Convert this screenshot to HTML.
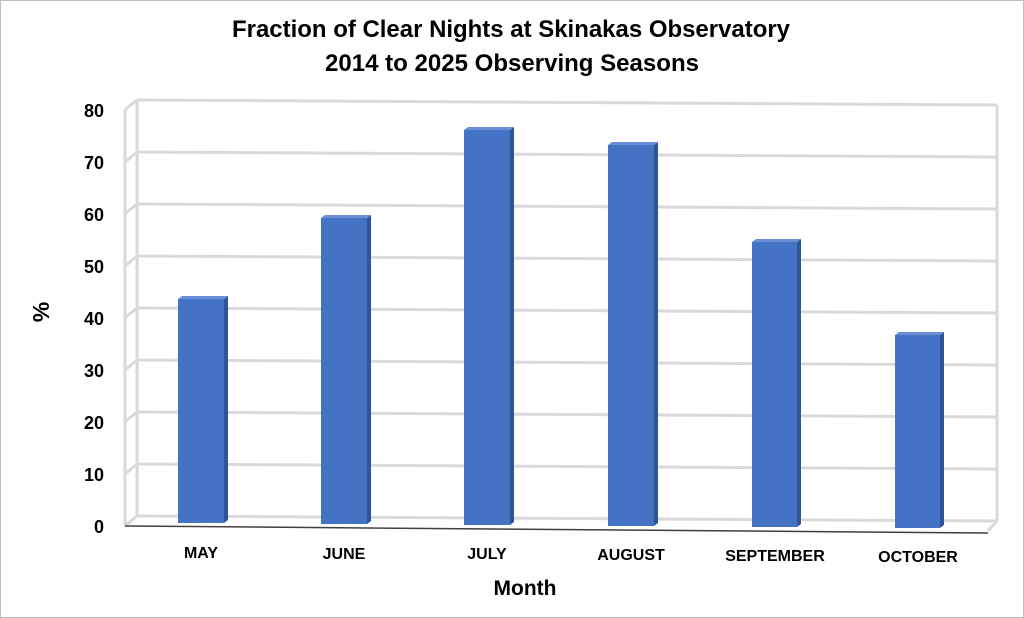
<!DOCTYPE html>
<html><head><meta charset="utf-8"><style>
html,body{margin:0;padding:0;background:#fff}
svg{display:block}
text{font-family:"Liberation Sans",Arial,sans-serif;font-weight:bold;fill:#000}
</style></head><body>
<svg width="1024" height="618" viewBox="0 0 1024 618" xmlns="http://www.w3.org/2000/svg">
<rect x="0.5" y="0.5" width="1023" height="617" fill="#fff" stroke="#bfbfbf"/>
<text x="511" y="37" font-size="24" text-anchor="middle" textLength="558" lengthAdjust="spacingAndGlyphs">Fraction of Clear Nights at Skinakas Observatory</text>
<text x="512" y="71" font-size="24" text-anchor="middle" textLength="374" lengthAdjust="spacingAndGlyphs">2014 to 2025 Observing Seasons</text>
<g stroke="#d9d9d9" stroke-width="3" fill="none">
<line x1="137" y1="100" x2="997" y2="105"/>
<line x1="137" y1="152" x2="997" y2="157"/>
<line x1="137" y1="204" x2="997" y2="209"/>
<line x1="137" y1="256" x2="997" y2="261"/>
<line x1="137" y1="308" x2="997" y2="313"/>
<line x1="137" y1="360" x2="997" y2="365"/>
<line x1="137" y1="412" x2="997" y2="417"/>
<line x1="137" y1="464" x2="997" y2="469"/>
<line x1="137" y1="516" x2="997" y2="521"/>
<line x1="137" y1="100" x2="137" y2="516"/>
<line x1="997" y1="105" x2="997" y2="521"/>
<line x1="125" y1="110" x2="125" y2="526"/>
<line x1="125" y1="110" x2="137" y2="100"/>
<line x1="125" y1="162" x2="137" y2="152"/>
<line x1="125" y1="214" x2="137" y2="204"/>
<line x1="125" y1="266" x2="137" y2="256"/>
<line x1="125" y1="318" x2="137" y2="308"/>
<line x1="125" y1="370" x2="137" y2="360"/>
<line x1="125" y1="422" x2="137" y2="412"/>
<line x1="125" y1="474" x2="137" y2="464"/>
<line x1="125" y1="526" x2="137" y2="516"/>
<line x1="988" y1="531" x2="997" y2="521"/>
</g>
<line x1="125" y1="526" x2="988" y2="533" stroke="#404040" stroke-width="1.5"/>
<g>
<g>
<rect x="178" y="299" width="46" height="224" fill="#4472c4"/>
<polygon points="224,299 228,296 228,520 224,523" fill="#2f5597"/>
<polygon points="178,299 182,296 228,296 224,299" fill="#6a8fd6"/>
</g>
<g>
<rect x="321" y="218" width="46" height="306" fill="#4472c4"/>
<polygon points="367,218 371,215 371,521 367,524" fill="#2f5597"/>
<polygon points="321,218 325,215 371,215 367,218" fill="#6a8fd6"/>
</g>
<g>
<rect x="464" y="130" width="46" height="395" fill="#4472c4"/>
<polygon points="510,130 514,127 514,522 510,525" fill="#2f5597"/>
<polygon points="464,130 468,127 514,127 510,130" fill="#6a8fd6"/>
</g>
<g>
<rect x="608" y="145" width="46" height="381" fill="#4472c4"/>
<polygon points="654,145 658,142 658,523 654,526" fill="#2f5597"/>
<polygon points="608,145 612,142 658,142 654,145" fill="#6a8fd6"/>
</g>
<g>
<rect x="752" y="242" width="45" height="285" fill="#4472c4"/>
<polygon points="797,242 801,239 801,524 797,527" fill="#2f5597"/>
<polygon points="752,242 756,239 801,239 797,242" fill="#6a8fd6"/>
</g>
<g>
<rect x="895" y="335" width="45" height="193" fill="#4472c4"/>
<polygon points="940,335 944,332 944,525 940,528" fill="#2f5597"/>
<polygon points="895,335 899,332 944,332 940,335" fill="#6a8fd6"/>
</g>
</g>
<g font-size="18" text-anchor="end">
<text x="104" y="117">80</text>
<text x="104" y="169">70</text>
<text x="104" y="221">60</text>
<text x="104" y="273">50</text>
<text x="104" y="325">40</text>
<text x="104" y="377">30</text>
<text x="104" y="429">20</text>
<text x="104" y="481">10</text>
<text x="104" y="533">0</text>
</g>
<g font-size="16" text-anchor="middle">
<text x="201" y="558">MAY</text>
<text x="344" y="559">JUNE</text>
<text x="487" y="559">JULY</text>
<text x="631" y="560">AUGUST</text>
<text x="775" y="561">SEPTEMBER</text>
<text x="918" y="562">OCTOBER</text>
</g>
<text x="525" y="595" font-size="21" text-anchor="middle">Month</text>
<text transform="translate(49,312) rotate(-90)" font-size="23" text-anchor="middle">%</text>
</svg>
</body></html>
